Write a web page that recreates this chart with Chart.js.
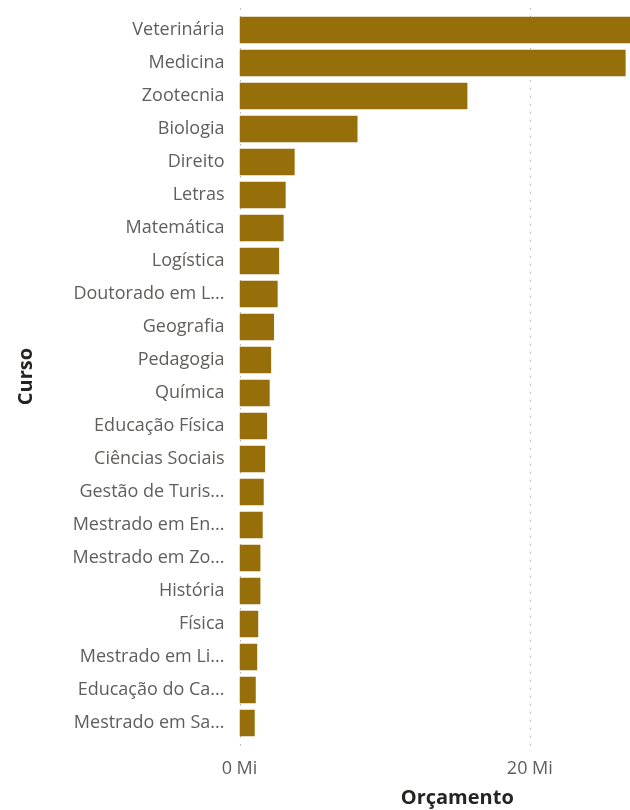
<!DOCTYPE html>
<html lang="pt">
<head>
<meta charset="utf-8">
<title>Orçamento por Curso</title>
<script src="https://cdn.jsdelivr.net/npm/chart.js@4.4.1/dist/chart.umd.min.js"></script>
<style>
    html, body { margin: 0; padding: 0; background: #fff; overflow: hidden; }
    #wrap { position: relative; width: 630px; height: 810px; overflow: hidden; }
    #budgetChart { position: absolute; left: 0; top: 0; }
</style>
</head>
<body>
<div id="wrap">
    <canvas id="budgetChart" width="675" height="810"></canvas>
</div>
<script>
// Data
const cursos = [
    'Veterinária', 'Medicina', 'Zootecnia', 'Biologia', 'Direito', 'Letras',
    'Matemática', 'Logística', 'Doutorado em L...', 'Geografia', 'Pedagogia',
    'Química', 'Educação Física', 'Ciências Sociais', 'Gestão de Turis...',
    'Mestrado em En...', 'Mestrado em Zo...', 'História', 'Física',
    'Mestrado em Li...', 'Educação do Ca...', 'Mestrado em Sa...'
];
// Orçamento in millions (Mi)
const orcamento = [
    29.0, 26.6, 15.7, 8.13, 3.80, 3.18,
    3.04, 2.73, 2.63, 2.38, 2.18,
    2.08, 1.90, 1.77, 1.67,
    1.60, 1.44, 1.44, 1.29,
    1.22, 1.12, 1.05
];
const xTicks = [0, 20];
const xMax = 30;

// Styles
const BAR_COLOR = '#966E0A';
const LABEL_COLOR = '#605E5C';
const TITLE_COLOR = '#252423';
const GRID_COLOR = '#B8B6B4';
const FONT = "'Open Sans', 'Noto Sans', sans-serif";

// Dotted vertical gridlines, a bit taller than the plot area
const dottedGrid = {
    id: 'dottedGrid',
    beforeDatasetsDraw(chart) {
        const { ctx, chartArea, scales } = chart;
        ctx.save();
        ctx.strokeStyle = GRID_COLOR;
        ctx.lineWidth = 1;
        ctx.setLineDash([1.5, 6.5]);
        xTicks.forEach(v => {
            const px = Math.round(scales.x.getPixelForValue(v)) + 0.5;
            ctx.beginPath();
            ctx.moveTo(px, chartArea.top - 5.5);
            ctx.lineTo(px, chartArea.bottom + 10.5);
            ctx.stroke();
        });
        ctx.restore();
    }
};

const ctx = document.getElementById('budgetChart').getContext('2d');
const chart = new Chart(ctx, {
    type: 'bar',
    data: {
        labels: cursos,
        datasets: [{
            label: 'Orçamento',
            data: orcamento,
            backgroundColor: BAR_COLOR,
            borderWidth: 0,
            barPercentage: 1,
            categoryPercentage: 0.8
        }]
    },
    plugins: [dottedGrid],
    options: {
        indexAxis: 'y',
        responsive: false,
        animation: false,
        layout: {
            padding: { top: 13.5, left: 0, right: 0, bottom: 0 }
        },
        plugins: {
            legend: { display: false },
            tooltip: { enabled: false }
        },
        scales: {
            x: {
                min: 0,
                max: xMax,
                afterBuildTicks: (scale) => {
                    scale.ticks = xTicks.map(v => ({ value: v }));
                },
                afterFit: (scale) => {
                    scale.height = 70.5;
                },
                grid: { display: false, drawTicks: false },
                border: { display: false },
                ticks: {
                    padding: 19,
                    color: LABEL_COLOR,
                    font: { family: FONT, size: 18 },
                    callback: (value) => value + ' Mi'
                },
                title: {
                    display: true,
                    text: 'Orçamento',
                    color: TITLE_COLOR,
                    font: { family: FONT, size: 20, weight: 'bold' },
                    padding: { top: 0, bottom: 0 }
                }
            },
            y: {
                afterFit: (scale) => {
                    // fixed label column, no extra padding above/below the bars
                    scale.width = 239.5;
                    scale.paddingTop = 0;
                    scale.paddingBottom = 0;
                },
                grid: { display: false, drawTicks: false },
                border: { display: false },
                ticks: {
                    padding: 15,
                    color: LABEL_COLOR,
                    font: { family: FONT, size: 18 },
                    autoSkip: false
                },
                title: {
                    display: true,
                    text: 'Curso',
                    color: TITLE_COLOR,
                    font: { family: FONT, size: 20, weight: 'bold' },
                    padding: { top: 14, bottom: 0 }
                }
            }
        }
    }
});
</script>
</body>
</html>
